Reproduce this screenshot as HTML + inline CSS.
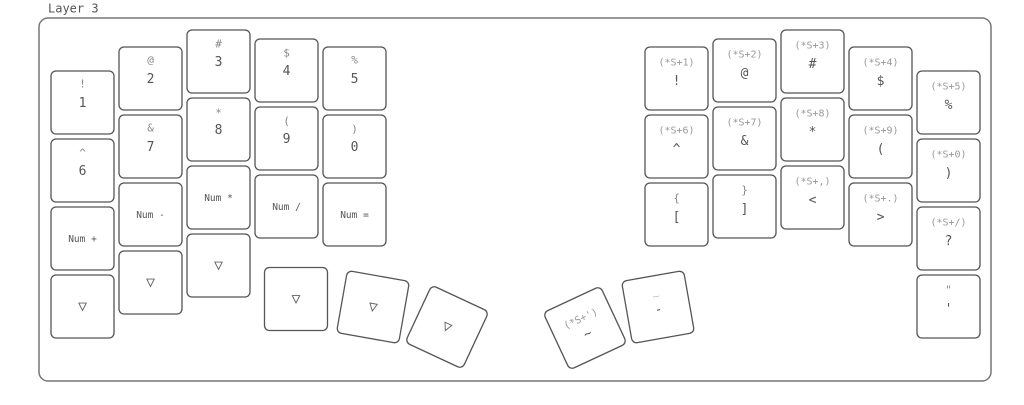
<!DOCTYPE html>
<html><head><meta charset="utf-8"><style>
html,body{margin:0;padding:0;background:#fff;}
svg{display:block;}
text{font-family:"DejaVu Sans Mono","Liberation Mono",monospace;text-anchor:middle;dominant-baseline:middle;fill:#555;}
.t{font-size:13px;}
.s{font-size:10px;fill:#999;}
.l{font-size:11px;fill:#888;}
.n{font-size:9.5px;}
.v{font-size:15px;fill:#666;}
rect.k{fill:#fff;stroke:#555;stroke-width:1.3;}
</style></head><body>
<svg width="1024" height="405" viewBox="0 0 1024 405" xmlns="http://www.w3.org/2000/svg">
<text x="48" y="9" style="font-size:12px;text-anchor:start;fill:#555">Layer 3</text>
<rect x="39" y="18" width="952" height="363" rx="9" fill="#fff" stroke="#777" stroke-width="1.5"/>

<g transform="translate(82.5,102.5)"><rect class="k" x="-31.5" y="-31.5" width="63" height="63" rx="5"/><text class="l" y="-18">!</text><text class="t" y="1">1</text></g>
<g transform="translate(82.5,170.5)"><rect class="k" x="-31.5" y="-31.5" width="63" height="63" rx="5"/><text class="l" y="-17">^</text><text class="t" y="1">6</text></g>
<g transform="translate(82.5,238.5)"><rect class="k" x="-31.5" y="-31.5" width="63" height="63" rx="5"/><text class="n" y="1">Num +</text></g>
<g transform="translate(82.5,306.5)"><rect class="k" x="-31.5" y="-31.5" width="63" height="63" rx="5"/><text class="v" y="0">▽</text></g>

<g transform="translate(150.5,78.5)"><rect class="k" x="-31.5" y="-31.5" width="63" height="63" rx="5"/><text class="l" y="-18">@</text><text class="t" y="1">2</text></g>
<g transform="translate(150.5,146.5)"><rect class="k" x="-31.5" y="-31.5" width="63" height="63" rx="5"/><text class="l" y="-18">&amp;</text><text class="t" y="1">7</text></g>
<g transform="translate(150.5,214.5)"><rect class="k" x="-31.5" y="-31.5" width="63" height="63" rx="5"/><text class="n" y="1">Num -</text></g>
<g transform="translate(150.5,282.5)"><rect class="k" x="-31.5" y="-31.5" width="63" height="63" rx="5"/><text class="v" y="0">▽</text></g>

<g transform="translate(218.5,61.5)"><rect class="k" x="-31.5" y="-31.5" width="63" height="63" rx="5"/><text class="l" y="-17">#</text><text class="t" y="1">3</text></g>
<g transform="translate(218.5,129.5)"><rect class="k" x="-31.5" y="-31.5" width="63" height="63" rx="5"/><text class="l" y="-16">*</text><text class="t" y="1">8</text></g>
<g transform="translate(218.5,197.5)"><rect class="k" x="-31.5" y="-31.5" width="63" height="63" rx="5"/><text class="n" y="1">Num *</text></g>
<g transform="translate(218.5,265.5)"><rect class="k" x="-31.5" y="-31.5" width="63" height="63" rx="5"/><text class="v" y="0">▽</text></g>

<g transform="translate(286.5,70.5)"><rect class="k" x="-31.5" y="-31.5" width="63" height="63" rx="5"/><text class="l" y="-17">$</text><text class="t" y="1">4</text></g>
<g transform="translate(286.5,138.5)"><rect class="k" x="-31.5" y="-31.5" width="63" height="63" rx="5"/><text class="l" y="-17">(</text><text class="t" y="1">9</text></g>
<g transform="translate(286.5,206.5)"><rect class="k" x="-31.5" y="-31.5" width="63" height="63" rx="5"/><text class="n" y="1">Num /</text></g>

<g transform="translate(354.5,78.5)"><rect class="k" x="-31.5" y="-31.5" width="63" height="63" rx="5"/><text class="l" y="-18">%</text><text class="t" y="1">5</text></g>
<g transform="translate(354.5,146.5)"><rect class="k" x="-31.5" y="-31.5" width="63" height="63" rx="5"/><text class="l" y="-17">)</text><text class="t" y="1">0</text></g>
<g transform="translate(354.5,214.5)"><rect class="k" x="-31.5" y="-31.5" width="63" height="63" rx="5"/><text class="n" y="1">Num =</text></g>

<g transform="translate(296,299)"><rect class="k" x="-31.5" y="-31.5" width="63" height="63" rx="5"/><text class="v" y="0">▽</text></g>
<g transform="translate(373,307) rotate(10)"><rect class="k" x="-31.5" y="-31.5" width="63" height="63" rx="5"/><text class="v" y="0">▽</text></g>
<g transform="translate(447,327) rotate(25)"><rect class="k" x="-31.5" y="-31.5" width="63" height="63" rx="5"/><text class="v" y="0">▽</text></g>

<g transform="translate(676.5,78.5)"><rect class="k" x="-31.5" y="-31.5" width="63" height="63" rx="5"/><text class="s" y="-16">(*S+1)</text><text class="t" y="3">!</text></g>
<g transform="translate(676.5,146.5)"><rect class="k" x="-31.5" y="-31.5" width="63" height="63" rx="5"/><text class="s" y="-16">(*S+6)</text><text class="t" y="3">^</text></g>
<g transform="translate(676.5,214.5)"><rect class="k" x="-31.5" y="-31.5" width="63" height="63" rx="5"/><text class="l" y="-16">{</text><text class="t" y="3">[</text></g>

<g transform="translate(744.5,70.5)"><rect class="k" x="-31.5" y="-31.5" width="63" height="63" rx="5"/><text class="s" y="-16">(*S+2)</text><text class="t" y="3">@</text></g>
<g transform="translate(744.5,138.5)"><rect class="k" x="-31.5" y="-31.5" width="63" height="63" rx="5"/><text class="s" y="-16">(*S+7)</text><text class="t" y="3">&amp;</text></g>
<g transform="translate(744.5,206.5)"><rect class="k" x="-31.5" y="-31.5" width="63" height="63" rx="5"/><text class="l" y="-16">}</text><text class="t" y="3">]</text></g>

<g transform="translate(812.5,61.5)"><rect class="k" x="-31.5" y="-31.5" width="63" height="63" rx="5"/><text class="s" y="-16">(*S+3)</text><text class="t" y="3">#</text></g>
<g transform="translate(812.5,129.5)"><rect class="k" x="-31.5" y="-31.5" width="63" height="63" rx="5"/><text class="s" y="-16">(*S+8)</text><text class="t" y="3">*</text></g>
<g transform="translate(812.5,197.5)"><rect class="k" x="-31.5" y="-31.5" width="63" height="63" rx="5"/><text class="s" y="-16">(*S+,)</text><text class="t" y="3">&lt;</text></g>

<g transform="translate(880.5,78.5)"><rect class="k" x="-31.5" y="-31.5" width="63" height="63" rx="5"/><text class="s" y="-16">(*S+4)</text><text class="t" y="3">$</text></g>
<g transform="translate(880.5,146.5)"><rect class="k" x="-31.5" y="-31.5" width="63" height="63" rx="5"/><text class="s" y="-16">(*S+9)</text><text class="t" y="3">(</text></g>
<g transform="translate(880.5,214.5)"><rect class="k" x="-31.5" y="-31.5" width="63" height="63" rx="5"/><text class="s" y="-16">(*S+.)</text><text class="t" y="3">&gt;</text></g>

<g transform="translate(948.5,102.5)"><rect class="k" x="-31.5" y="-31.5" width="63" height="63" rx="5"/><text class="s" y="-16">(*S+5)</text><text class="t" y="3">%</text></g>
<g transform="translate(948.5,170.5)"><rect class="k" x="-31.5" y="-31.5" width="63" height="63" rx="5"/><text class="s" y="-16">(*S+0)</text><text class="t" y="3">)</text></g>
<g transform="translate(948.5,238.5)"><rect class="k" x="-31.5" y="-31.5" width="63" height="63" rx="5"/><text class="s" y="-16">(*S+/)</text><text class="t" y="3">?</text></g>
<g transform="translate(948.5,306.5)"><rect class="k" x="-31.5" y="-31.5" width="63" height="63" rx="5"/><text class="l" y="-16">"</text><text class="t" y="3">'</text></g>

<g transform="translate(585,328) rotate(-25)"><rect class="k" x="-31.5" y="-31.5" width="63" height="63" rx="5"/><text class="s" y="-10">(*S+')</text><text class="t" y="7">~</text></g>
<g transform="translate(658,307) rotate(-10)"><rect class="k" x="-31.5" y="-31.5" width="63" height="63" rx="5"/><text class="l" y="-16">_</text><text class="t" y="3">-</text></g>
</svg>
</body></html>
